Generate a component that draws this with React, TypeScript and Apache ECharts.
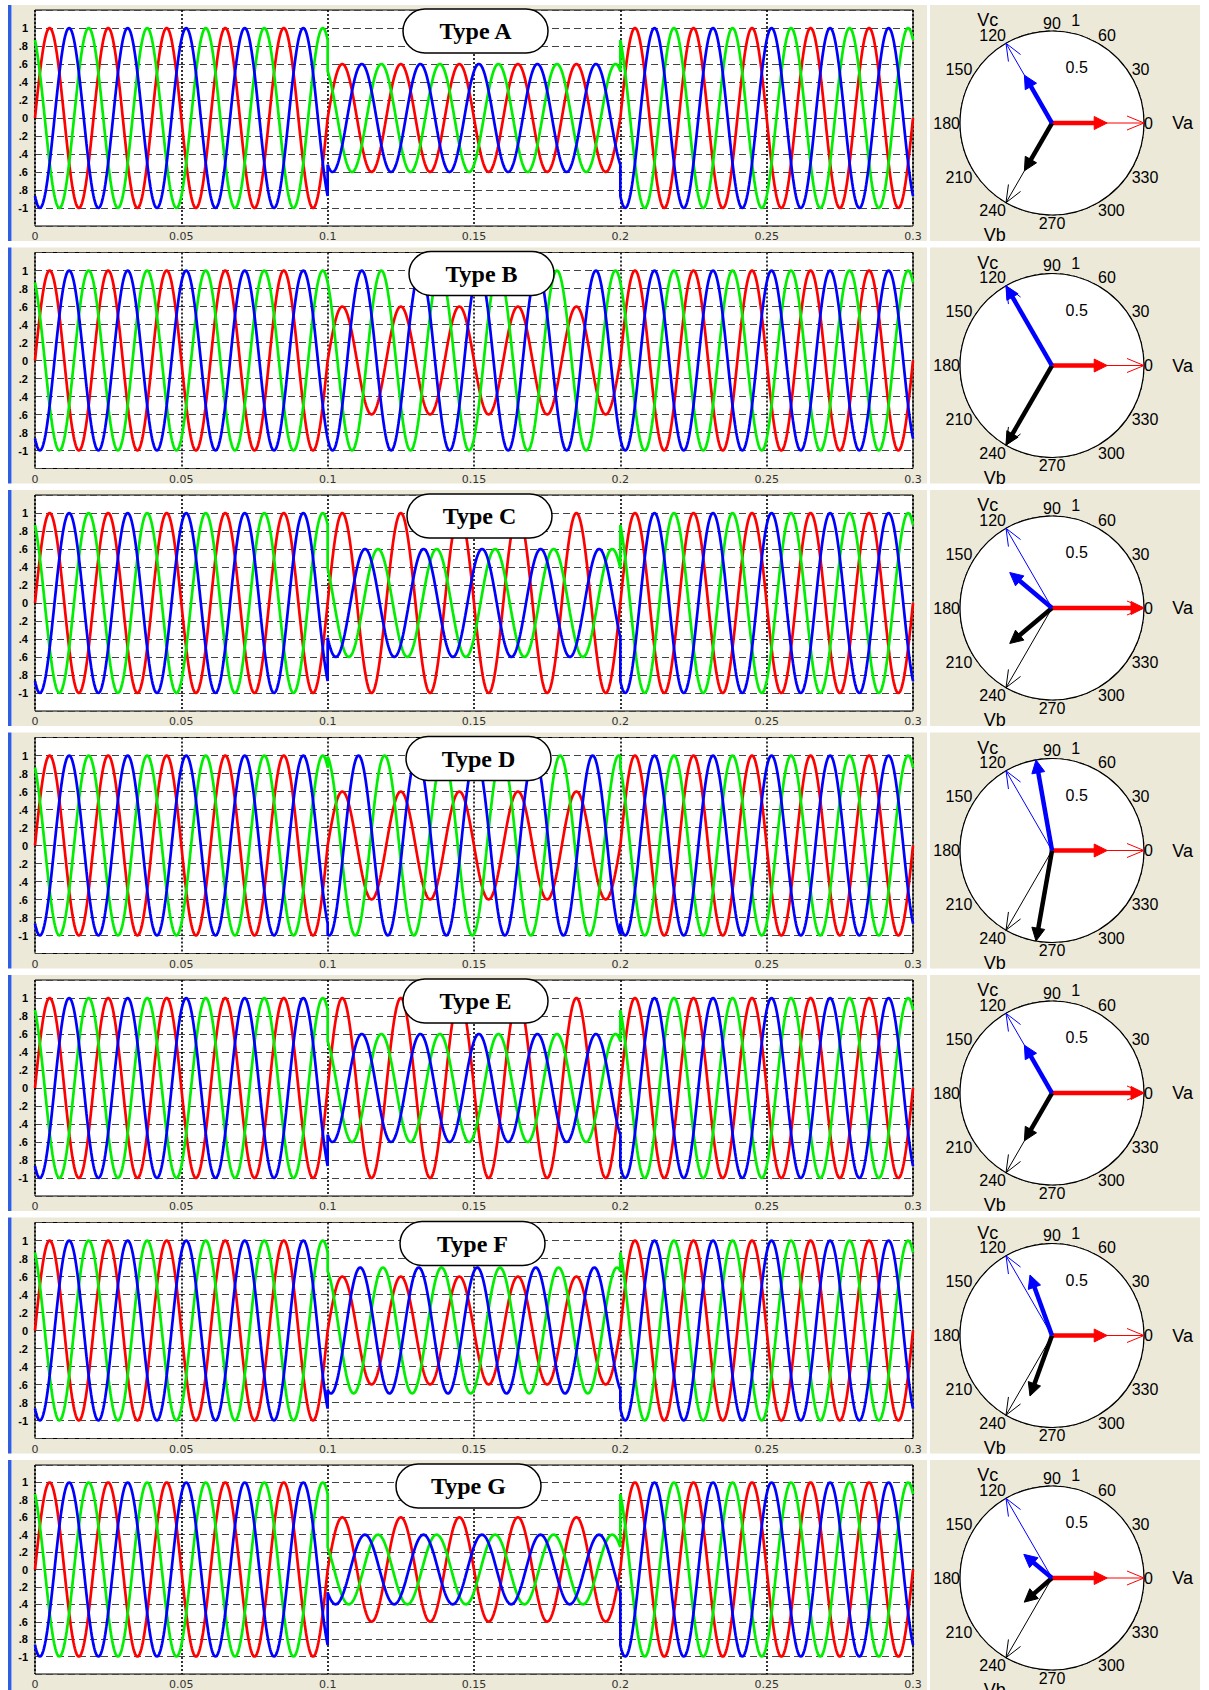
import React, { useEffect, useRef } from "react";
import * as echarts from "echarts";

// ---------------- data ----------------
const TYPE_NAMES = ["Type A", "Type B", "Type C", "Type D", "Type E", "Type F", "Type G"];
const PHASE_NAMES = ["Va", "Vb", "Vc"];

// Pre-fault / post-fault phasors (pu, degrees): Va, Vb, Vc
const PRE_MAG = [1, 1, 1];
const PRE_ANG = [0, 240, 120];

// During-dip phasors, one entry per type A..G
const DIP_VA_MAG = [0.6, 0.6, 1.0, 0.6, 1.0, 0.6, 0.6];
const DIP_VA_ANG = [0, 0, 0, 0, 0, 0, 0];
const DIP_VB_MAG = [0.6, 1.0, 0.6, 1.0, 0.6, 0.7, 0.4];
const DIP_VB_ANG = [240, 240, 220, 260, 240, 250, 221];
const DIP_VC_MAG = [0.6, 1.0, 0.6, 1.0, 0.6, 0.7, 0.4];
const DIP_VC_ANG = [120, 120, 140, 100, 120, 110, 140];

const DIP_START = 0.1;
const DIP_END = 0.2;
const T_END = 0.3;
const FREQ_HZ = 50;
const SAMPLE_STEP = 0.0002;

const X_TICK_LABELS = ["0", "0.05", "0.1", "0.15", "0.2", "0.25", "0.3"];
const Y_TICK_LABELS = ["-1", ".8", ".6", ".4", ".2", "0", ".2", ".4", ".6", ".8", "1"];
const PHASOR_LABELS = ["Va", "Vb", "Vc", "0.5", "1"];

// ---------------- layout / style ----------------
const PLOT_LEFT = 35;
const PLOT_RIGHT = 913;
const PLOT_H = 216;
const ROW_TOP0 = 10;
const ROW_PITCH = 242.5;
const PHASOR_CX = 1052;
const PHASOR_DY = 113;
const PHASOR_R = 92;
const PILL_LEFT = [403, 409, 407, 406, 403, 400, 396];
const PILL_W = 145;
const PILL_H = 44;
const LABEL_POLAR = [
  [1.42, 0],
  [1.37, 243],
  [1.32, 122],
  [0.66, 66],
  [1.14, 77],
];
const WAVE_COLORS = ["#ff0000", "#0000ff", "#00ee00"]; // Va, Vb, Vc
const PHASOR_COLORS = ["#ff0000", "#000000", "#0000ff"]; // Va, Vb, Vc
const BEIGE = "#ECE9D8";

const rowTop = (k: number) => ROW_TOP0 + ROW_PITCH * k;

function dipPhasor(phase: number, k: number): [number, number] {
  const mags = [DIP_VA_MAG, DIP_VB_MAG, DIP_VC_MAG][phase];
  const angs = [DIP_VA_ANG, DIP_VB_ANG, DIP_VC_ANG][phase];
  return [mags[k], angs[k]];
}

// instantaneous waveform derived from the phasors above
function waveData(phase: number, k: number): number[][] {
  const [dm, da] = dipPhasor(phase, k);
  const val = (t: number, m: number, a: number) =>
    m * Math.sin(2 * Math.PI * FREQ_HZ * t + (a * Math.PI) / 180);
  const n = Math.round(T_END / SAMPLE_STEP);
  const iS = Math.round(DIP_START / SAMPLE_STEP);
  const iE = Math.round(DIP_END / SAMPLE_STEP);
  const out: number[][] = [];
  for (let i = 0; i <= n; i++) {
    const t = i * SAMPLE_STEP;
    const pre = val(t, PRE_MAG[phase], PRE_ANG[phase]);
    const dip = val(t, dm, da);
    if (i < iS || i > iE) out.push([t, pre]);
    else if (i === iS) {
      out.push([t, pre]);
      out.push([t, dip]);
    } else if (i === iE) {
      out.push([t, dip]);
      out.push([t, pre]);
    } else out.push([t, dip]);
  }
  return out;
}

const renderArrow = (params: any, api: any) => {
  const idx = params.dataIndex;
  const thick = idx >= 3;
  const color = PHASOR_COLORS[idx % 3];
  const r = api.value(0);
  const a = api.value(1);
  const c = api.coord([0, a]);
  const p = api.coord([r, a]);
  const dx = p[0] - c[0];
  const dy = p[1] - c[1];
  const len = Math.hypot(dx, dy) || 1;
  const ux = dx / len;
  const uy = dy / len;
  const nx = -uy;
  const ny = ux;
  if (!thick) {
    const hl = 17;
    const hw = 7;
    const bx = p[0] - ux * hl;
    const by = p[1] - uy * hl;
    return {
      type: "group",
      children: [
        { type: "line", shape: { x1: c[0], y1: c[1], x2: p[0], y2: p[1] }, style: { stroke: color, lineWidth: 1 } },
        {
          type: "polyline",
          shape: { points: [[bx + nx * hw, by + ny * hw], [p[0], p[1]], [bx - nx * hw, by - ny * hw]] },
          style: { stroke: color, lineWidth: 1, fill: null },
        },
      ],
    };
  }
  const hl = 13;
  const hw = 6.5;
  const bx = p[0] - ux * hl;
  const by = p[1] - uy * hl;
  return {
    type: "group",
    children: [
      { type: "line", shape: { x1: c[0], y1: c[1], x2: bx + ux * 2, y2: by + uy * 2 }, style: { stroke: color, lineWidth: 4.5 } },
      {
        type: "polygon",
        shape: { points: [[p[0], p[1]], [bx + nx * hw, by + ny * hw], [bx - nx * hw, by - ny * hw]] },
        style: { fill: color, stroke: color, lineWidth: 1 },
      },
    ],
  };
};

const renderLabel = (params: any, api: any) => {
  const i = params.dataIndex;
  const p = api.coord([api.value(0), api.value(1)]);
  return {
    type: "text",
    x: p[0],
    y: p[1],
    style: {
      text: PHASOR_LABELS[i],
      fill: "#000",
      font: `${i < 3 ? 18 : 16}px "Liberation Sans", Arial, sans-serif`,
      align: "center",
      verticalAlign: "middle",
    },
  };
};

function buildOption() {
  const grids: any[] = [];
  const xAxes: any[] = [];
  const yAxes: any[] = [];
  const polars: any[] = [];
  const angleAxes: any[] = [];
  const radiusAxes: any[] = [];
  const series: any[] = [];
  const elements: any[] = [];

  TYPE_NAMES.forEach((name, k) => {
    const top = rowTop(k);
    grids.push({
      left: PLOT_LEFT,
      top,
      width: PLOT_RIGHT - PLOT_LEFT,
      height: PLOT_H,
      show: true,
      backgroundColor: "#fff",
      borderColor: "#000",
      borderWidth: 1,
    });
    xAxes.push({
      type: "value",
      gridIndex: k,
      min: 0,
      max: T_END,
      interval: 0.05,
      axisLine: { show: false },
      axisTick: { show: false },
      splitLine: { show: true, lineStyle: { color: "#000", width: 1.6, type: [2, 2] } },
      axisLabel: {
        formatter: (v: number) => X_TICK_LABELS[Math.round(v / 0.05)] ?? "",
        fontSize: 11,
        fontFamily: "DejaVu Sans",
        color: "#333",
        margin: 5,
      },
    });
    yAxes.push({
      type: "value",
      gridIndex: k,
      min: -1.2,
      max: 1.2,
      interval: 0.2,
      axisLine: { show: false },
      axisTick: { show: false },
      splitLine: { show: true, lineStyle: { color: "#444", width: 1, type: [7, 4] } },
      axisLabel: {
        formatter: (v: number) => {
          const i = Math.round((v + 1) / 0.2);
          return i >= 0 && i <= 10 ? Y_TICK_LABELS[i] : "";
        },
        fontSize: 11,
        fontWeight: "bold",
        fontFamily: "Liberation Sans",
        color: "#000",
        margin: 7,
      },
    });

    // waveforms: Va red, Vc green, Vb blue
    [0, 2, 1].forEach((ph) => {
      series.push({
        type: "line",
        name: `${name} ${PHASE_NAMES[ph]}`,
        xAxisIndex: k,
        yAxisIndex: k,
        showSymbol: false,
        symbol: "none",
        silent: true,
        lineStyle: { color: WAVE_COLORS[ph], width: 2.7 },
        itemStyle: { color: WAVE_COLORS[ph] },
        data: waveData(ph, k),
        z: 3,
      });
    });

    // phasor diagram
    polars.push({ center: [PHASOR_CX, top + PHASOR_DY], radius: PHASOR_R });
    angleAxes.push({
      polarIndex: k,
      type: "value",
      min: 0,
      max: 360,
      interval: 30,
      startAngle: 0,
      clockwise: false,
      axisLine: { show: true, lineStyle: { color: "#000", width: 1.2 } },
      axisTick: { show: false },
      splitLine: { show: true, lineStyle: { color: "#000", width: 1, type: [4, 3] } },
      splitArea: { show: true, areaStyle: { color: ["#fff"] } },
      axisLabel: {
        formatter: (v: number) => (v >= 360 ? "" : String(v)),
        fontSize: 16,
        fontFamily: "Liberation Sans",
        color: "#000",
        margin: 0,
      },
    });
    radiusAxes.push({
      polarIndex: k,
      type: "value",
      min: 0,
      max: 1,
      interval: 0.5,
      axisLine: { show: false },
      axisTick: { show: false },
      axisLabel: { show: false },
      splitLine: { show: true, lineStyle: { color: "#000", width: 1, type: [4, 3] } },
    });
    const arrowData: number[][] = [];
    for (let ph = 0; ph < 3; ph++) arrowData.push([PRE_MAG[ph], PRE_ANG[ph]]);
    for (let ph = 0; ph < 3; ph++) arrowData.push(dipPhasor(ph, k));
    series.push({
      type: "custom",
      name: `${name} phasors`,
      coordinateSystem: "polar",
      polarIndex: k,
      silent: true,
      renderItem: renderArrow,
      data: arrowData,
      z: 5,
    });
    series.push({
      type: "custom",
      name: `${name} labels`,
      coordinateSystem: "polar",
      polarIndex: k,
      silent: true,
      renderItem: renderLabel,
      data: LABEL_POLAR,
      z: 6,
    });

    // panels
    elements.push({ type: "rect", shape: { x: 12, y: top - 5, width: 915, height: 236 }, style: { fill: BEIGE }, z: -10, silent: true });
    elements.push({ type: "rect", shape: { x: 8, y: top - 5, width: 3.5, height: 236 }, style: { fill: "#2f5ee0" }, z: -9, silent: true });
    elements.push({ type: "rect", shape: { x: 930, y: top - 5, width: 270, height: 236 }, style: { fill: BEIGE }, z: -10, silent: true });
    // type pill
    elements.push({
      type: "rect",
      shape: { x: PILL_LEFT[k], y: top - 1, width: PILL_W, height: PILL_H, r: PILL_H / 2 },
      style: { fill: "#fff", stroke: "#000", lineWidth: 1.5 },
      z: 100,
      silent: true,
    });
    elements.push({
      type: "text",
      x: PILL_LEFT[k] + PILL_W / 2,
      y: top - 1 + PILL_H / 2,
      style: {
        text: name,
        font: 'bold 24px "Liberation Serif", "Times New Roman", serif',
        fill: "#000",
        align: "center",
        verticalAlign: "middle",
        textAlign: "center",
        textVerticalAlign: "middle",
      },
      z: 101,
      silent: true,
    });
  });

  return {
    animation: false,
    backgroundColor: "#fff",
    grid: grids,
    xAxis: xAxes,
    yAxis: yAxes,
    polar: polars,
    angleAxis: angleAxes,
    radiusAxis: radiusAxes,
    series,
    graphic: { elements },
  };
}

export default function App() {
  const ref = useRef<HTMLDivElement>(null);
  useEffect(() => {
    if (!ref.current) return;
    const chart = echarts.init(ref.current, undefined, { renderer: "svg" });
    chart.setOption(buildOption() as any);
    return () => chart.dispose();
  }, []);
  return (
    <div
      ref={ref}
      style={{ position: "absolute", left: 0, top: 0, width: 1209, height: 1690 }}
    />
  );
}
